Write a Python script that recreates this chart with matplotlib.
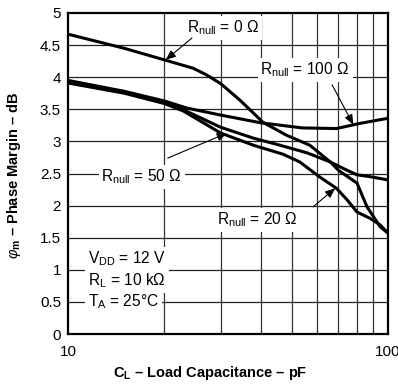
import matplotlib
matplotlib.use("Agg")
import matplotlib.pyplot as plt

plt.rcParams['font.family'] = ['Liberation Sans', 'DejaVu Sans']
plt.rcParams['mathtext.fontset'] = 'custom'
plt.rcParams['mathtext.rm'] = 'Liberation Sans'
plt.rcParams['mathtext.it'] = 'Liberation Sans:italic'
plt.rcParams['mathtext.bf'] = 'Liberation Sans:bold'

# Data
c_r0 = [10, 15, 20, 24.6, 27, 30, 34.5, 38, 40.6, 48, 57, 66, 70, 80, 86, 94.5, 100]
v_r0 = [4.67, 4.45, 4.27, 4.14, 4.04, 3.90, 3.64, 3.44, 3.30, 3.10, 2.94, 2.68, 2.55, 2.35, 1.98, 1.67, 1.57]

c_r100 = [10, 15, 20, 23.5, 30, 40, 54, 69, 81.6, 100]
v_r100 = [3.95, 3.78, 3.63, 3.52, 3.41, 3.29, 3.21, 3.20, 3.28, 3.36]

c_r50 = [10, 15, 20, 23, 30, 38, 46, 56, 66, 74.5, 80, 88, 100]
v_r50 = [3.93, 3.77, 3.61, 3.49, 3.22, 3.05, 2.94, 2.82, 2.68, 2.55, 2.48, 2.45, 2.40]

c_r20 = [10, 15, 20, 23, 30, 38, 47, 53, 61, 69, 74.5, 80, 88, 94.5, 100]
v_r20 = [3.91, 3.75, 3.59, 3.47, 3.13, 2.94, 2.80, 2.68, 2.45, 2.27, 2.09, 1.90, 1.80, 1.70, 1.57]

y_ticks = [0, 0.5, 1, 1.5, 2, 2.5, 3, 3.5, 4, 4.5, 5]
y_tick_labels = ['0', '0.5', '1', '1.5', '2', '2.5', '3', '3.5', '4', '4.5', '5']
x_ticks = [10, 100]
x_tick_labels = ['10', '100']
x_grid = [20, 30, 40, 50, 60, 70, 80, 90]

fig = plt.figure(figsize=(3.98, 3.85), dpi=100)
ax = fig.add_axes([68/398, 1-334/385, 320/398, 321/385])
ax.set_xscale('log')
ax.set_xlim(10, 100)
ax.set_ylim(0, 5)

for y in y_ticks[1:-1]:
    ax.axhline(y, color='#222222', lw=0.9, zorder=1)
for x in x_grid:
    ax.axvline(x, color='#333333', lw=0.9, zorder=1)

lw = 2.2
for c, v in [(c_r0, v_r0), (c_r100, v_r100), (c_r50, v_r50), (c_r20, v_r20)]:
    ax.plot(c, v, color='black', lw=lw, zorder=3, solid_capstyle='butt', solid_joinstyle='round')

ax.set_yticks(y_ticks)
ax.set_yticklabels(y_tick_labels)
ax.set_xticks(x_ticks)
ax.set_xticklabels(x_tick_labels)
ax.minorticks_off()
ax.tick_params(length=0, labelsize=11, pad=5)
ax.tick_params(axis='x', pad=8)
for s in ax.spines.values():
    s.set_linewidth(1.6)
    s.set_zorder(5)

fig.text(210/398, 1-373/385, r'C$_\mathbf{L}$ – Load Capacitance – pF', fontsize=10.5,
         fontweight='bold', ha='center', va='center')
fig.text(14/398, 1-175/385, r'$\varphi_\mathbf{m}$ – Phase Margin – dB', fontsize=10.5,
         fontweight='bold', ha='center', va='center', rotation=90)

box = dict(facecolor='white', edgecolor='none', pad=2)
tk = dict(fontsize=11.2, zorder=4, bbox=box, va='center')
ax.text(30.5, 4.77, r'R$_{\mathrm{null}}$ = 0 Ω', ha='center', **tk)
ax.text(55.1, 4.11, r'R$_{\mathrm{null}}$ = 100 Ω', ha='center', **tk)
ax.text(17.0, 2.45, r'R$_{\mathrm{null}}$ = 50 Ω', ha='center', **tk)
ax.text(39.2, 1.78, r'R$_{\mathrm{null}}$ = 20 Ω', ha='center', **tk)
ax.text(11.55, 1.17, r'V$_{\mathrm{DD}}$ = 12 V', ha='left', **tk)
ax.text(11.55, 0.83, r'R$_{\mathrm{L}}$ = 10 kΩ', ha='left', **tk)
ax.text(11.55, 0.50, r'T$_{\mathrm{A}}$ = 25°C', ha='left', **tk)

ap = dict(arrowstyle='-|>,head_length=0.6,head_width=0.25', color='black', lw=0.8, shrinkA=0, shrinkB=0)
ax.annotate('', xy=(20.2, 4.27), xytext=(24.4, 4.61), arrowprops=ap, zorder=4)
ax.annotate('', xy=(77.9, 3.26), xytext=(66.9, 3.88), arrowprops=ap, zorder=4)
ax.annotate('', xy=(31.4, 3.13), xytext=(20.5, 2.74), arrowprops=ap, zorder=4)
ax.annotate('', xy=(68.4, 2.27), xytext=(58.3, 1.98), arrowprops=ap, zorder=4)

fig.savefig('out.png', dpi=100)
